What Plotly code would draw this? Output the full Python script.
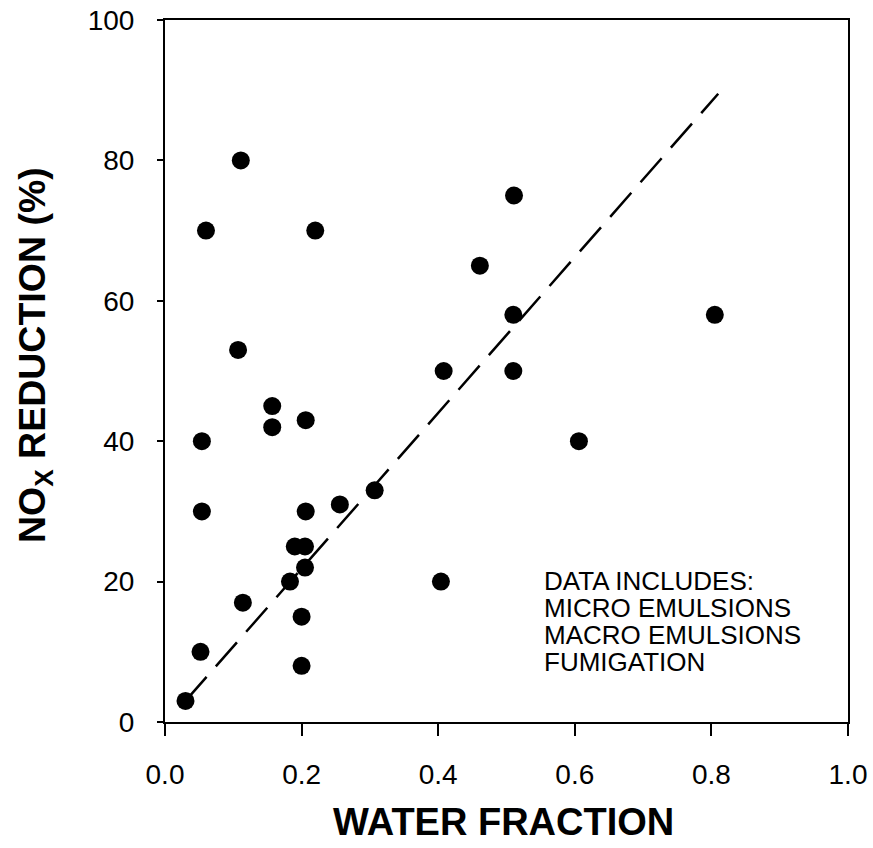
import plotly.graph_objects as go

# Data
water_fraction = [0.03, 0.052, 0.054, 0.054, 0.06, 0.107, 0.111, 0.114, 0.157, 0.157,
                  0.183, 0.19, 0.205, 0.205, 0.2, 0.2, 0.206, 0.206, 0.22, 0.256,
                  0.307, 0.404, 0.408, 0.461, 0.51, 0.51, 0.511, 0.606, 0.805]
nox_reduction = [3, 10, 30, 40, 70, 53, 80, 17, 45, 42,
                 20, 25, 25, 22, 15, 8, 43, 30, 70, 31,
                 33, 20, 50, 65, 58, 50, 75, 40, 58]
fit_x = [0.03, 0.81]
fit_y = [3, 89.5]

x_ticks = [0.0, 0.2, 0.4, 0.6, 0.8, 1.0]
x_tick_labels = ["0.0", "0.2", "0.4", "0.6", "0.8", "1.0"]
y_ticks = [0, 20, 40, 60, 80, 100]
y_tick_labels = ["0", "20", "40", "60", "80", "100"]

note_lines = ["DATA INCLUDES:", "MICRO EMULSIONS", "MACRO EMULSIONS", "FUMIGATION"]
note_y = [20.1, 16.3, 12.4, 8.6]

FONT = "Liberation Sans, Arial, Helvetica, sans-serif"

fig = go.Figure()
fig.add_trace(go.Scatter(x=fit_x, y=fit_y, mode="lines",
                         line=dict(color="black", width=2.5, dash="32px,14px"),
                         showlegend=False, hoverinfo="skip"))
fig.add_trace(go.Scatter(x=water_fraction, y=nox_reduction, mode="markers",
                         marker=dict(color="black", size=18),
                         showlegend=False))

for txt, yy in zip(note_lines, note_y):
    fig.add_annotation(x=0.552, y=yy, xref="x", yref="y", text=txt, showarrow=False,
                       xanchor="left", yanchor="middle",
                       font=dict(family=FONT, size=26, color="black"))

fig.add_annotation(x=0.496, y=-0.1425, xref="paper", yref="paper",
                   text="<b>WATER FRACTION</b>", showarrow=False,
                   xanchor="center", yanchor="middle",
                   font=dict(family=FONT, size=38, color="black"))
fig.add_annotation(x=-0.19, y=0.523, xref="paper", yref="paper",
                   text="<b>NO<sub>X</sub> REDUCTION (%)</b>", showarrow=False,
                   textangle=-90, xanchor="center", yanchor="middle",
                   font=dict(family=FONT, size=37.5, color="black"))

fig.update_layout(
    width=873, height=848,
    margin=dict(l=165, r=25, t=20, b=126),
    paper_bgcolor="white", plot_bgcolor="white",
    font=dict(family=FONT, color="black"),
    xaxis=dict(range=[0, 1], tickvals=x_ticks, ticktext=x_tick_labels,
               showgrid=False, zeroline=False, showline=True, linecolor="black",
               linewidth=2, mirror=True, ticks="outside", ticklen=12, tickwidth=2,
               tickcolor="black", tickfont=dict(size=28, family=FONT),
               ticklabelstandoff=14, automargin=False),
    yaxis=dict(range=[0, 100], tickvals=y_ticks, ticktext=y_tick_labels,
               showgrid=False, zeroline=False, showline=True, linecolor="black",
               linewidth=2, mirror=True, ticks="outside", ticklen=6, tickwidth=2,
               tickcolor="black", tickfont=dict(size=28, family=FONT),
               ticklabelstandoff=17, automargin=False),
)

fig.write_html("out.html")
